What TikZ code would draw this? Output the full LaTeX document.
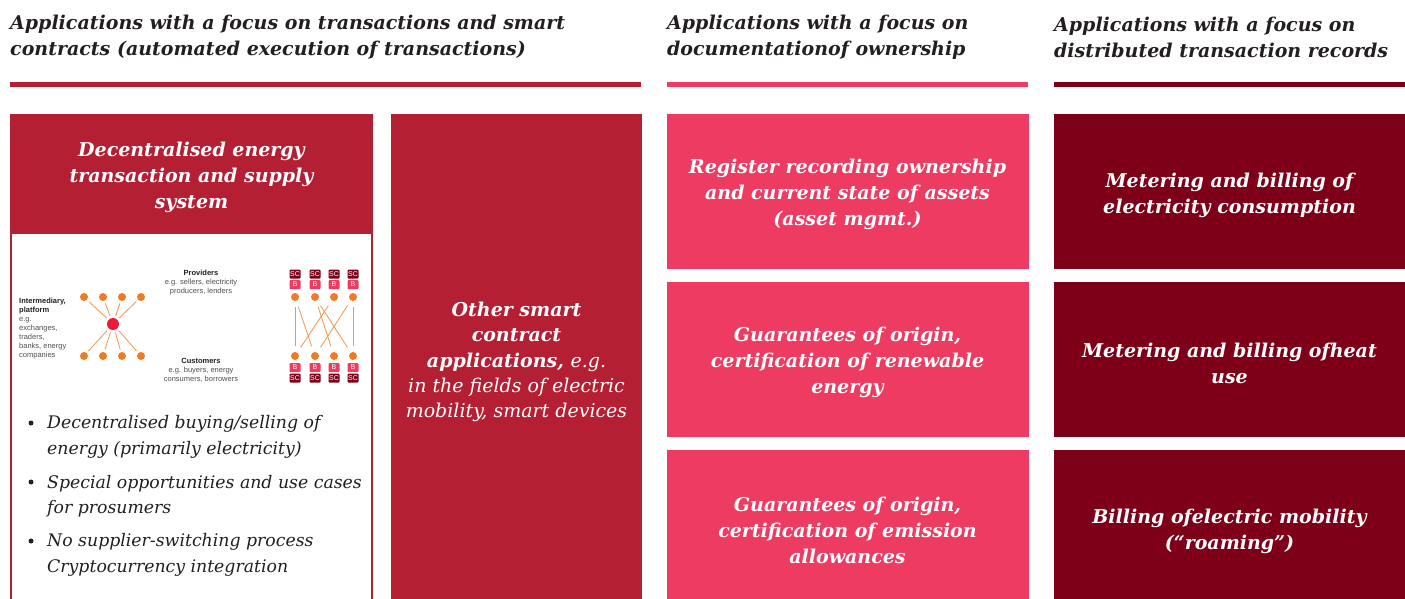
\documentclass[tikz,border=0pt]{standalone}
\usepackage{fontspec}
\setmainfont{DejaVu Serif}
\newfontfamily\labelfont{Liberation Sans}
\definecolor{pwcred}{RGB}{181,31,52}
\definecolor{pwcpink}{RGB}{238,59,97}
\definecolor{pwcwine}{RGB}{125,0,24}
\definecolor{dotorange}{RGB}{243,122,33}
\definecolor{hubred}{RGB}{236,26,56}
\definecolor{inktext}{RGB}{35,31,32}
\definecolor{labelgrey}{RGB}{80,80,80}
\begin{document}
\begin{tikzpicture}[x=1pt,y=-1pt,
  head/.style={anchor=west,align=left,inner sep=0pt,text=inktext,font=\fontsize{19}{26}\selectfont\bfseries\itshape},
  rule/.style={line width=5pt},
  tiletext/.style={inner sep=0pt,align=center,text=white,font=\fontsize{19}{26}\selectfont\bfseries\itshape},
  bullettext/.style={anchor=west,align=left,inner sep=0pt,text=inktext,font=\fontsize{17.3}{25.5}\selectfont\itshape},
  bulletdot/.style={circle,fill=inktext,inner sep=0pt,minimum size=5},
  dot/.style={circle,fill=dotorange,inner sep=0pt,minimum size=8},
  hub/.style={circle,fill=hubred,inner sep=0pt,minimum size=12},
  link/.style={draw=dotorange!80,line width=0.8pt,shorten >=2.5,shorten <=2.5},
  deal/.style={draw=dotorange!80,line width=0.8pt,shorten >=6,shorten <=6},
  sctag/.style={fill=pwcwine,text=white,inner sep=0pt,minimum width=11,minimum height=9,rounded corners=1,font=\labelfont\fontsize{7}{7}\selectfont},
  btag/.style={sctag,fill=pwcpink},
  smalltext/.style={inner sep=0pt,text=labelgrey,font=\labelfont\fontsize{7.5}{9}\selectfont}]
\useasboundingbox (0,0) rectangle (1405,598);

\node[head] (head1) at (10,37) {Applications with a focus on transactions and smart\\contracts (automated execution of transactions)};
\node[head] (head2) at (667,37) {Applications with a focus on\\documentationof ownership};
\node[head] (head3) at (1054,37) {Applications with a focus on\\distributed transaction records};
\draw[rule,pwcred] (10,84) -- (641,84);
\draw[rule,pwcpink] (667,84) -- (1028,84);
\draw[rule,pwcwine] (1054,84) -- (1405,84);

\fill[pwcred] (10,114) rectangle (373,620);
\fill[white] (12,234) rectangle (371,620);
\fill[pwcred] (391,114) rectangle (642,620);
\fill[pwcpink] (667,114) rectangle (1029,269);
\fill[pwcpink] (667,282) rectangle (1029,437);
\fill[pwcpink] (667,450) rectangle (1029,605);
\fill[pwcwine] (1054,114) rectangle (1405,269);
\fill[pwcwine] (1054,282) rectangle (1405,437);
\fill[pwcwine] (1054,450) rectangle (1405,605);

\node[tiletext] (energy) at (191.5,177.5) {Decentralised energy\\transaction and supply\\system};
\node[tiletext,font=\fontsize{19}{25.3}\selectfont\bfseries\itshape] (other) at (516.5,362) {Other smart\\contract\\applications, {\mdseries e.g.}\\{\mdseries in the fields of electric}\\{\mdseries mobility, smart devices}};
\node[tiletext] (asset) at (847.5,194) {Register recording ownership\\and current state of assets\\(asset mgmt.)};
\node[tiletext] (renew) at (847.5,362) {Guarantees of origin,\\certification of renewable\\energy};
\node[tiletext] (emission) at (847.5,530) {Guarantees of origin,\\certification of emission\\allowances};
\node[tiletext] (power) at (1229.5,195) {Metering and billing of\\electricity consumption};
\node[tiletext] (heat) at (1229.5,363) {Metering and billing ofheat\\use};
\node[tiletext] (roaming) at (1229.5,531) {Billing ofelectric mobility\\(“roaming”)};

\node[smalltext,anchor=north west,align=left] (broker) at (19,298) {\textbf{\color{inktext}Intermediary,}\\\textbf{\color{inktext}platform}\\e.g.\\exchanges,\\traders,\\banks, energy\\companies};
\node[hub] (centre) at (113,324) {};
\node[dot] (t1) at (84,297) {};
\node[dot] (t2) at (103,297) {};
\node[dot] (t3) at (122,297) {};
\node[dot] (t4) at (141,297) {};
\node[dot] (u1) at (84,356) {};
\node[dot] (u2) at (103,356) {};
\node[dot] (u3) at (122,356) {};
\node[dot] (u4) at (141,356) {};
\draw[link] (t1) -- (centre);
\draw[link] (t2) -- (centre);
\draw[link] (t3) -- (centre);
\draw[link] (t4) -- (centre);
\draw[link] (u1) -- (centre);
\draw[link] (u2) -- (centre);
\draw[link] (u3) -- (centre);
\draw[link] (u4) -- (centre);

\node[smalltext,align=center] (providers) at (201,283) {\textbf{\color{inktext}Providers}\\e.g. sellers, electricity\\producers, lenders};
\node[smalltext,align=center] (customers) at (201,370) {\textbf{\color{inktext}Customers}\\e.g. buyers, energy\\consumers, borrowers};

\node[dot] (p1) at (295,297) {};
\node[dot] (p2) at (315,297) {};
\node[dot] (p3) at (334,297) {};
\node[dot] (p4) at (353,297) {};
\node[dot] (c1) at (295,356) {};
\node[dot] (c2) at (315,356) {};
\node[dot] (c3) at (334,356) {};
\node[dot] (c4) at (353,356) {};
\node[sctag] (psc1) at (295,274) {SC};
\node[sctag] (psc2) at (315,274) {SC};
\node[sctag] (psc3) at (334,274) {SC};
\node[sctag] (psc4) at (353,274) {SC};
\node[btag] (pb1) at (295,284.5) {B};
\node[btag] (pb2) at (315,284.5) {B};
\node[btag] (pb3) at (334,284.5) {B};
\node[btag] (pb4) at (353,284.5) {B};
\node[btag] (cb1) at (295,367.5) {B};
\node[btag] (cb2) at (315,367.5) {B};
\node[btag] (cb3) at (334,367.5) {B};
\node[btag] (cb4) at (353,367.5) {B};
\node[sctag] (csc1) at (295,378) {SC};
\node[sctag] (csc2) at (315,378) {SC};
\node[sctag] (csc3) at (334,378) {SC};
\node[sctag] (csc4) at (353,378) {SC};
\draw[deal] (p1) -- (c1);
\draw[deal] (p1) -- (c2);
\draw[deal] (p2) -- (c3);
\draw[deal] (p2) -- (c4);
\draw[deal] (p3) -- (c1);
\draw[deal] (p4) -- (c2);
\draw[deal] (p4) -- (c4);

\node[bulletdot] (mark1) at (31,423) {};
\node[bulletdot] (mark2) at (31,482) {};
\node[bulletdot] (mark3) at (31,541) {};
\node[bullettext] (item1) at (47,437) {Decentralised buying/selling of\\energy (primarily electricity)};
\node[bullettext] (item2) at (47,496) {Special opportunities and use cases\\for prosumers};
\node[bullettext] (item3) at (47,555) {No supplier-switching process\\Cryptocurrency integration};
\end{tikzpicture}
\end{document}
